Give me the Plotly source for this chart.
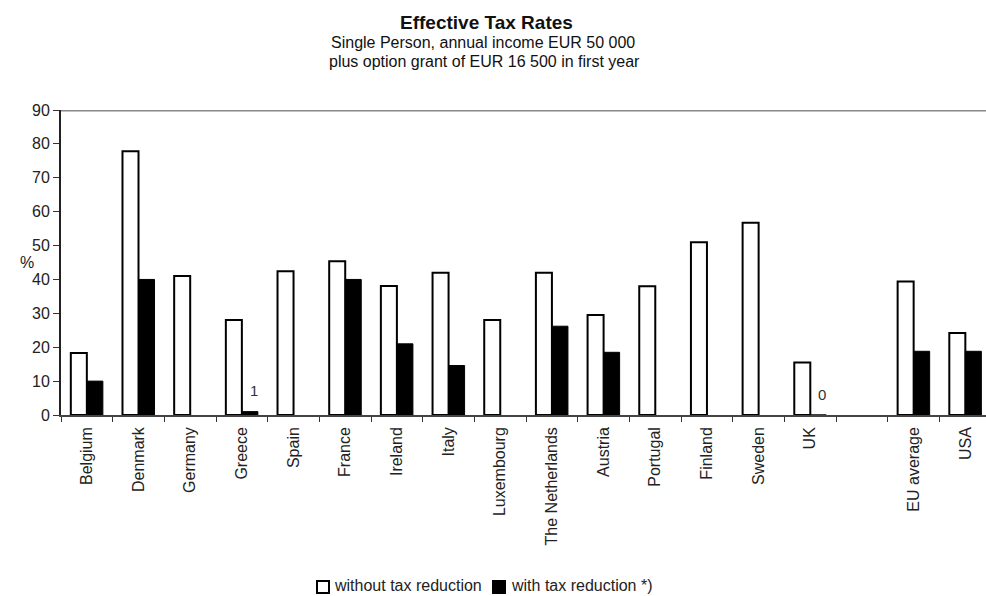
import plotly.graph_objects as go

categories = ["Belgium", "Denmark", "Germany", "Greece", "Spain", "France", "Ireland",
              "Italy", "Luxembourg", "The Netherlands", "Austria", "Portugal", "Finland",
              "Sweden", "UK", " ", "EU average", "USA"]
without_red = [18.3, 77.8, 41, 28, 42.4, 45.4, 38.1, 42, 28, 42, 29.5, 38, 51, 56.7, 15.5, None, 39.4, 24.2]
with_red = [10, 40, None, 1, None, 40, 21, 14.6, None, 26.2, 18.5, None, None, None, 0, None, 18.8, 18.8]
labelled = {"Greece": "1", "UK": "0"}
y_ticks = [0, 10, 20, 30, 40, 50, 60, 70, 80, 90]
series_names = ["without tax reduction", "with tax reduction *)"]

FONT = "Liberation Sans, Arial, sans-serif"

# plot area in pixels
L, R, T, B = 61, 986, 110, 415
W, H = R - L, B - T

def px_x(p):
    return (p - L) / W

def px_y(p):
    return (B - p) / H

fig = go.Figure()
fig.add_trace(go.Bar(
    x=categories, y=without_red, name=series_names[0],
    marker=dict(color="white", line=dict(color="black", width=2)),
))
fig.add_trace(go.Bar(
    x=categories, y=with_red, name=series_names[1],
    marker=dict(color="black", line=dict(color="black", width=1)),
))

fig.update_layout(
    width=986, height=596,
    margin=dict(l=L, r=986 - R, t=T, b=596 - B),
    paper_bgcolor="white", plot_bgcolor="white",
    barmode="group", bargap=0.38, bargroupgap=0,
    font=dict(family=FONT, color="#222"),
    showlegend=False,
)
fig.update_xaxes(
    type="category", range=[-0.5, 17.4], tickangle=-90, automargin=False,
    tickfont=dict(size=16, family=FONT, color="#222"),
    showline=True, linecolor="#444", linewidth=1.5,
    ticks="outside", tickson="boundaries", ticklen=5, tickcolor="#333",
    ticklabelstandoff=4,
    showgrid=False, zeroline=False,
)
fig.update_yaxes(
    range=[0, 90], tickvals=y_ticks, ticktext=[str(v) for v in y_ticks], automargin=False,
    tickfont=dict(size=16, family=FONT, color="#222"),
    showline=True, linecolor="#222", linewidth=2,
    ticks="outside", ticklen=6, tickcolor="#333",
    showgrid=False, zeroline=False,
)
fig.add_shape(type="line", xref="paper", yref="y", x0=0, x1=1, y0=90, y1=90,
              line=dict(color="#888", width=3))

# value labels for the near-zero bars
for cat, txt in labelled.items():
    v = with_red[categories.index(cat)]
    fig.add_annotation(x=cat, y=v, xref="x", yref="y", text=txt, showarrow=False,
                       xshift=12, yshift=21, font=dict(size=15, family=FONT, color="#333"))

fig.add_annotation(xref="paper", yref="paper", x=px_x(18), y=px_y(262),
                   text="%", showarrow=False, font=dict(size=16, family=FONT, color="#222"))
fig.add_annotation(xref="paper", yref="paper", x=px_x(486), y=px_y(22),
                   text="<b>Effective Tax Rates</b>", showarrow=False,
                   font=dict(size=19, family=FONT, color="#111"), yanchor="middle")
fig.add_annotation(xref="paper", yref="paper", x=px_x(483), y=px_y(42),
                   text="Single Person, annual income EUR 50 000", showarrow=False,
                   font=dict(size=16, family=FONT, color="#111"), yanchor="middle")
fig.add_annotation(xref="paper", yref="paper", x=px_x(484), y=px_y(61),
                   text="plus option grant of EUR 16 500 in first year", showarrow=False,
                   font=dict(size=16, family=FONT, color="#111"), yanchor="middle")

# legend (drawn compactly like the original)
legend_items = [(317, "white", 333, series_names[0]), (493, "black", 510, series_names[1])]
for sx, fill, tx, name in legend_items:
    fig.add_shape(type="rect", xref="paper", yref="paper",
                  x0=px_x(sx), x1=px_x(sx + 12), y0=px_y(581), y1=px_y(593),
                  fillcolor=fill, line=dict(color="black", width=2))
    fig.add_annotation(xref="paper", yref="paper", x=px_x(tx), y=px_y(595),
                       text=name, showarrow=False, xanchor="left", yanchor="bottom",
                       borderpad=0, font=dict(size=16, family=FONT, color="#222"))

fig.write_html("out.html")
